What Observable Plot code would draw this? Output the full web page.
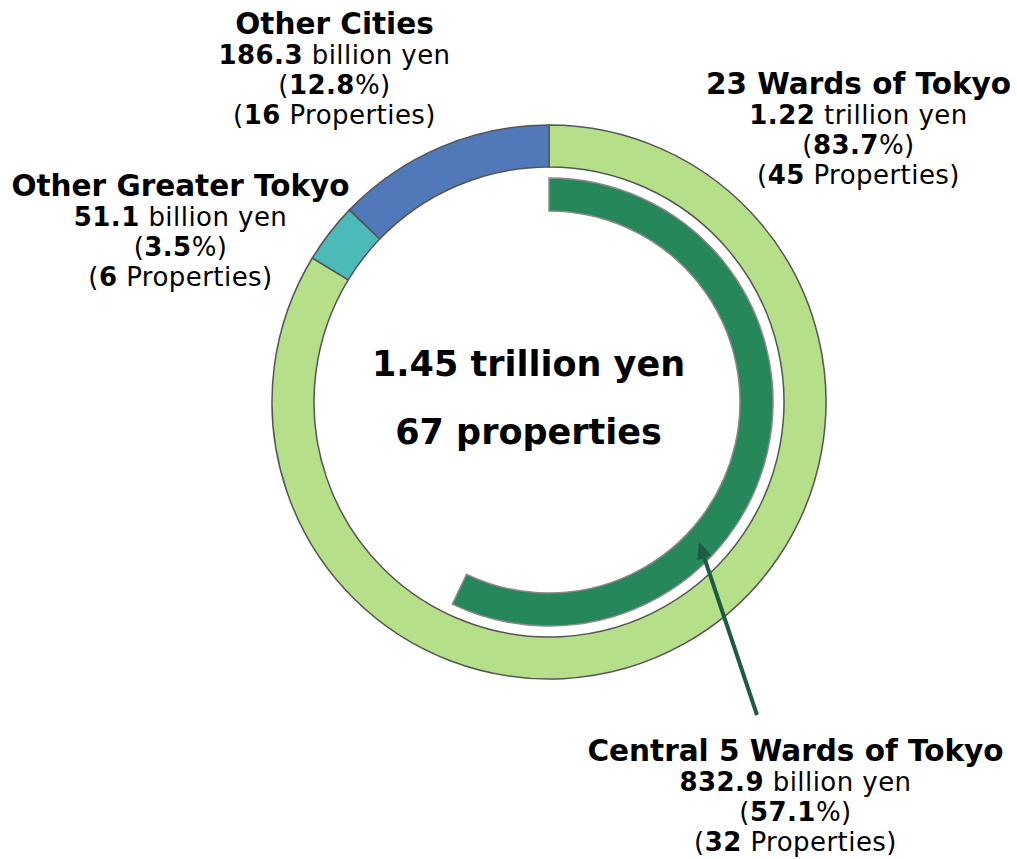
<!DOCTYPE html>
<html><head><meta charset="utf-8">
<script src="https://cdn.jsdelivr.net/npm/d3@7"></script>
<script src="https://cdn.jsdelivr.net/npm/@observablehq/plot@0.6"></script>
<style>
  html,body{margin:0;padding:0;background:#fff;}
  #chart svg{font-family:"DejaVu Sans",Verdana,sans-serif;display:block;}
</style>
</head><body><div id="chart"></div>
<script>
// ---------- data ----------
const regions = ["23 Wards of Tokyo", "Other Greater Tokyo", "Other Cities"];
const regionValues = ["1.22", "51.1", "186.3"];
const regionUnits = ["trillion yen", "billion yen", "billion yen"];
const regionShares = [83.7, 3.5, 12.8];
const regionProperties = [45, 6, 16];

const subRegion = "Central 5 Wards of Tokyo";
const subValue = "832.9";
const subUnit = "billion yen";
const subShare = 57.1;
const subProperties = 32;

const totalLines = ["1.45 trillion yen", "67 properties"];

// ---------- styles / layout ----------
const regionColors = ["#b6df89", "#4dbaba", "#5178b8"];
const subColor = "#26875a";
const arrowColor = "#1e5b45";
const W = 1017, H = 859;
const center = [549, 402];
const outerR = [235, 277];
const innerR = [191, 224];
const labelPos = [[858, 93], [180, 195], [334, 33]];
const subLabelPos = [795, 760];
const totalPos = [[528, 375], [528, 443]];
const arrowFrom = [757, 715];
const arrowToAngle = 133, arrowToR = 205;
const lineStep = 30.3;

// ---------- derived tables ----------
let cum = 0;
const segments = regions.map((name, i) => {
  const s = {name, start: cum, end: cum + regionShares[i], color: regionColors[i]};
  cum += regionShares[i];
  return s;
});
const subSegment = {name: subRegion, start: 0, end: subShare, color: subColor};

const richMap = new Map();
function rows(name, value, unit, share, props, pos) {
  const lines = [
    [{t: value, b: true}, {t: " " + unit}],
    [{t: "("}, {t: String(share), b: true}, {t: "%)"}],
    [{t: "("}, {t: String(props), b: true}, {t: " Properties)"}]
  ];
  const out = lines.map((segs, k) => {
    const text = segs.map(s => s.t).join("");
    richMap.set(text, segs);
    return {x: pos[0], y: pos[1] + (k + 1) * lineStep, text};
  });
  return {head: {x: pos[0], y: pos[1], text: name}, details: out};
}
const labelSets = regions.map((r, i) =>
  rows(r, regionValues[i], regionUnits[i], regionShares[i], regionProperties[i], labelPos[i]));
labelSets.push(rows(subRegion, subValue, subUnit, subShare, subProperties, subLabelPos));
const heads = labelSets.map(d => d.head);
const details = labelSets.flatMap(d => d.details);
const totals = totalLines.map((t, i) => ({x: totalPos[i][0], y: totalPos[i][1], text: t}));

const toRad = p => p / 100 * 2 * Math.PI;

function ringMark(index, scales) {
  const sx = scales.x, sy = scales.y;
  const cx = sx(center[0]), cy = sy(center[1]);
  const rpx = r => sx(center[0] + r) - cx;
  const g = d3.create("svg:g").attr("transform", `translate(${cx},${cy})`);
  const outer = d3.arc().innerRadius(rpx(outerR[0])).outerRadius(rpx(outerR[1]));
  g.selectAll("path.seg").data(segments).join("path")
    .attr("class", "seg")
    .attr("d", d => outer({startAngle: toRad(d.start), endAngle: toRad(d.end)}))
    .attr("fill", d => d.color)
    .attr("stroke", "#555")
    .attr("stroke-width", 1.5)
    .attr("stroke-linejoin", "miter");
  const inner = d3.arc().innerRadius(rpx(innerR[0])).outerRadius(rpx(innerR[1]));
  g.append("path")
    .attr("d", inner({startAngle: toRad(subSegment.start), endAngle: toRad(subSegment.end)}))
    .attr("fill", subSegment.color)
    .attr("stroke", "#8a8a8a")
    .attr("stroke-width", 1.5);
  // arrow
  const a = arrowToAngle * Math.PI / 180;
  const tip = [rpx(arrowToR) * Math.sin(a), -rpx(arrowToR) * Math.cos(a)];
  const from = [sx(arrowFrom[0]) - cx, sy(arrowFrom[1]) - cy];
  const ang = Math.atan2(tip[1] - from[1], tip[0] - from[0]);
  const hl = 17, hw = 7.5;
  const base = [tip[0] - hl * Math.cos(ang), tip[1] - hl * Math.sin(ang)];
  g.append("line")
    .attr("x1", from[0]).attr("y1", from[1])
    .attr("x2", base[0]).attr("y2", base[1])
    .attr("stroke", arrowColor).attr("stroke-width", 4);
  const px = -Math.sin(ang), py = Math.cos(ang);
  g.append("path")
    .attr("d", `M${tip[0]},${tip[1]}L${base[0] + hw * px},${base[1] + hw * py}L${base[0] - hw * px},${base[1] - hw * py}Z`)
    .attr("fill", arrowColor);
  return g.node();
}

const chart = Plot.plot({
  width: W, height: H,
  margin: 0,
  x: {domain: [0, W], range: [0, W], axis: null},
  y: {domain: [0, H], range: [0, H], axis: null},
  marks: [
    ringMark,
    Plot.text(heads, {x: "x", y: "y", text: "text", fontSize: 29.5, fontWeight: "bold", lineAnchor: "bottom", fill: "#000"}),
    Plot.text(details, {x: "x", y: "y", text: "text", fontSize: 26, lineAnchor: "bottom", fill: "#000", className: "detail"}),
    Plot.text(totals, {x: "x", y: "y", text: "text", fontSize: 35, fontWeight: "bold", lineAnchor: "bottom", fill: "#000"})
  ]
});

// mixed-weight labels: bold numbers inside regular text
d3.select(chart).selectAll("text").each(function() {
  const segs = richMap.get(this.textContent);
  if (!segs) return;
  const el = d3.select(this);
  el.text(null).attr("letter-spacing", "0.45px");
  segs.forEach(s => el.append("tspan").attr("font-weight", s.b ? "bold" : null).text(s.t));
});

document.getElementById("chart").appendChild(chart);
</script>
</body></html>
